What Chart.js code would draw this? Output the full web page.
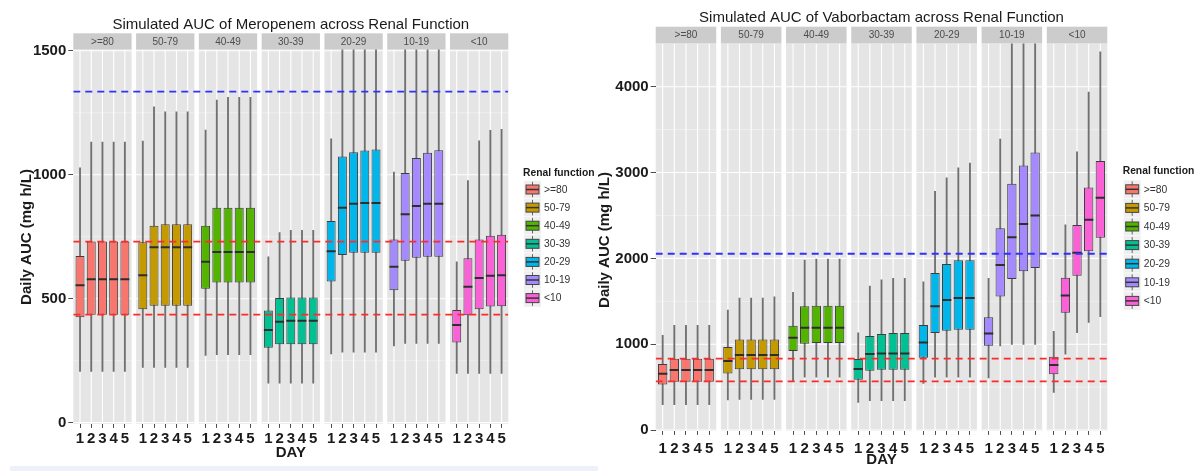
<!DOCTYPE html>
<html><head><meta charset="utf-8">
<script src="https://cdn.jsdelivr.net/npm/chart.js@4.4.0/dist/chart.umd.min.js"></script>
<style>
html,body{margin:0;padding:0;background:#fff;}
#wrap{position:relative;width:1198px;height:471px;overflow:hidden;background:#fff;}
canvas{position:absolute;left:0;top:0;}
#band{position:absolute;left:10px;top:466px;width:588px;height:5px;background:#edf1fa;}
</style></head><body>
<div id="wrap"><div id="band"></div>
<canvas id="c1" width="1198" height="471"></canvas>
<canvas id="c2" width="1198" height="471"></canvas>
</div>
<script>
// ---------- categories ----------
const categories = ['>=80','50-79','40-49','30-39','20-29','10-19','<10'];
const days = ['1','2','3','4','5'];
const colors = ['#F8766D','#C49A00','#53B400','#00C094','#00B6EB','#A58AFF','#FB61D7'];
const legendTitle = 'Renal function';

// ---------- Meropenem (rows = renal function group, cols = day 1..5) ----------
const meroMin = [[207,207,207,207,207],[223,223,223,223,223],[271,274,274,274,274],[159,159,159,159,159],[277,284,284,284,284],[309,320,320,320,320],[199,199,199,199,199]];
const meroQ1  = [[425,435,435,435,435],[457,472,472,472,472],[540,565,565,565,565],[302,316,316,316,316],[569,676,685,685,685],[534,653,665,669,669],[323,433,457,468,470]];
const meroMed = [[554,578,578,578,578],[595,707,707,707,707],[649,688,688,688,688],[374,407,411,411,411],[691,867,883,886,886],[629,841,874,883,883],[394,548,583,593,595]];
const meroQ3  = [[672,731,731,731,731],[728,794,800,800,800],[794,867,867,867,867],[452,503,505,505,505],[813,1073,1091,1098,1102],[739,1007,1067,1089,1099],[454,663,739,754,758]];
const meroMax = [[1028,1132,1132,1132,1132],[1136,1274,1254,1254,1254],[1180,1301,1312,1312,1312],[669,767,776,776,776],[1145,1560,1560,1560,1560],[1011,1560,1560,1560,1560],[649,976,1137,1179,1183]];
const meroBlue = [1335];
const meroRed = [730, 436];
const meroTicks = [0, 500, 1000, 1500];
const meroTickLabels = ['0','500','1000','1500'];
const meroMinor = [250, 750, 1250];

// ---------- Vaborbactam ----------
const vaboMin = [[295,295,295,295,295],[350,357,357,357,357],[563,617,617,617,617],[322,342,342,342,342],[544,617,617,617,617],[606,979,998,998,998],[439,885,1134,1254,1320]];
const vaboQ1  = [[532,563,563,563,563],[660,707,707,707,707],[920,1006,1014,1014,1014],[586,691,703,703,703],[843,1130,1157,1169,1169],[983,1557,1759,1849,1887],[649,1367,1798,2082,2241]];
const vaboMed = [[656,699,699,699,699],[804,874,874,874,874],[1076,1192,1192,1192,1192],[711,885,893,893,893],[1021,1441,1515,1538,1538],[1126,1922,2245,2400,2501],[757,1569,2066,2450,2707]];
const vaboQ3  = [[769,831,831,831,831],[967,1056,1056,1056,1056],[1216,1441,1449,1449,1449],[827,1095,1118,1130,1130],[1223,1829,1934,1977,1977],[1313,2350,2870,3083,3235],[854,1775,2388,2827,3134]];
const vaboMax = [[1103,1219,1219,1219,1219],[1398,1538,1538,1538,1553],[1604,1981,1992,1992,1992],[1134,1678,1751,1767,1767],[1728,2781,2940,3056,3111],[1767,3390,4600,4600,4600],[1150,2392,3243,3938,4408]];
const vaboBlue = [2054];
const vaboRed = [831, 567];
const vaboTicks = [0, 1000, 2000, 3000, 4000];
const vaboTickLabels = ['0','1000','2000','3000','4000'];
const vaboMinor = [500, 1500, 2500, 3500];

// ---------- layout ----------
const W = 1198, H = 471;
const STEP = 5.6, EXP = 0.6;
const FONT = '"Liberation Sans", Arial, sans-serif';
Chart.defaults.font.family = FONT;
Chart.defaults.animation = false;
const STRIP_FONT = '10px ' + FONT;

const panels = [
  {canvas:'c1', title:'Simulated AUC of Meropenem across Renal Function', yTitle:'Daily AUC (mg h/L)', xTitle:'DAY',
   lo:meroMin, q1:meroQ1, med:meroMed, q3:meroQ3, hi:meroMax, blue:meroBlue, red:meroRed,
   yTicks:meroTicks, yTickLabels:meroTickLabels, yMinor:meroMinor, yMin:-5, yMax:1505,
   area:{left:73.3, right:508.3, top:49.5, bottom:423.9}, stripH:16.2, xTickPad:2,
   yTitleX:27, yTitleY:237, xTitleY:453,
   legend:{x:523, titleY:172.7, y0:189.5, dy:18.1}},
  {canvas:'c2', title:'Simulated AUC of Vaborbactam across Renal Function', yTitle:'Daily AUC (mg h/L)', xTitle:'DAY',
   lo:vaboMin, q1:vaboQ1, med:vaboMed, q3:vaboQ3, hi:vaboMax, blue:vaboBlue, red:vaboRed,
   yTicks:vaboTicks, yTickLabels:vaboTickLabels, yMinor:vaboMinor, yMin:-10, yMax:4505,
   area:{left:655.7, right:1107.3, top:43.4, bottom:430.9}, stripH:16.7, xTickPad:5,
   yTitleX:605, yTitleY:240, xTitleY:460,
   legend:{x:1122.7, titleY:170.7, y0:189.3, dy:18.6}}
];

function drawLegend(ctx, L){
  ctx.textAlign = 'left'; ctx.textBaseline = 'middle';
  ctx.fillStyle = '#1a1a1a'; ctx.font = 'bold 10.3px ' + FONT;
  ctx.fillText(legendTitle, L.x, L.titleY);
  categories.forEach((cat, i) => {
    const yc = L.y0 + i * L.dy, kx = L.x + 1, kw = 17, kh = L.dy - 0.6;
    ctx.fillStyle = '#EFEFEF'; ctx.fillRect(kx, yc - kh/2, kw, kh);
    ctx.strokeStyle = '#666'; ctx.lineWidth = 1;
    ctx.beginPath(); ctx.moveTo(kx + kw/2, yc - kh/2 + 1); ctx.lineTo(kx + kw/2, yc + kh/2 - 1); ctx.stroke();
    ctx.fillStyle = colors[i]; ctx.fillRect(kx + 2, yc - 4.5, kw - 4, 9);
    ctx.strokeStyle = '#444'; ctx.strokeRect(kx + 2, yc - 4.5, kw - 4, 9);
    ctx.strokeStyle = '#333'; ctx.lineWidth = 1.5;
    ctx.beginPath(); ctx.moveTo(kx + 2, yc); ctx.lineTo(kx + kw - 2, yc); ctx.stroke();
    ctx.fillStyle = '#333'; ctx.font = '10.3px ' + FONT;
    ctx.fillText(cat, kx + kw + 3, yc + 0.5);
  });
}

function makeChart(P){
  const pos = [];
  categories.forEach((c, f) => days.forEach((d, i) => pos.push(f * STEP + i)));
  const flatRange = (lo, hi) => lo.flatMap((row, f) => row.map((v, i) => ({x: f * STEP + i, y: [v, hi[f][i]]})));
  const flatPts = (arr) => arr.flatMap((row, f) => row.map((v, i) => ({x: f * STEP + i, y: v})));
  const boxColors = categories.flatMap((c, f) => days.map(() => colors[f]));
  const xMin = -EXP, xMax = (categories.length - 1) * STEP + (days.length - 1) + EXP;
  const unit = (chart) => { const s = chart.scales.x; return Math.abs(s.getPixelForValue(1) - s.getPixelForValue(0)); };
  const refSet = (v, color) => ({type:'line', data:[{x:xMin, y:v}, {x:xMax, y:v}], borderColor:color, borderWidth:1.8,
    borderDash:[7,5], pointRadius:0, fill:false, order:0});

  const datasets = [
    {type:'bar', label:'whisker', data:flatRange(P.lo, P.hi), backgroundColor:'#707070', barThickness:1.2, grouped:false, order:3},
    {type:'bar', label:'IQR', data:flatRange(P.q1, P.q3), backgroundColor:boxColors, borderColor:'#3d3d3d', borderWidth:1,
     borderSkipped:false, barPercentage:0.8, categoryPercentage:1, grouped:false, order:2},
    {type:'line', label:'median', data:flatPts(P.med), showLine:false, pointStyle:'line',
     pointRadius: ctx => unit(ctx.chart) * 0.4, pointBorderColor:'#2e2e2e', pointBorderWidth:2, order:1},
    ...P.blue.map(v => refSet(v, '#3030ff')),
    ...P.red.map(v => refSet(v, '#ff2b2b'))
  ];

  const panelPlugin = {
    id: 'panel_' + P.canvas,
    beforeDraw(chart){
      const {ctx, chartArea: a, scales: {x, y}} = chart;
      ctx.save();
      const hl = (py, l, r) => { ctx.beginPath(); ctx.moveTo(l, py); ctx.lineTo(r, py); ctx.stroke(); };
      categories.forEach((cat, f) => {
        const l = x.getPixelForValue(f * STEP - EXP), r = x.getPixelForValue(f * STEP + days.length - 1 + EXP);
        ctx.fillStyle = '#E5E5E5'; ctx.fillRect(l, a.top, r - l, a.bottom - a.top);
        ctx.strokeStyle = '#F2F2F2'; ctx.lineWidth = 0.7;
        P.yMinor.forEach(v => hl(y.getPixelForValue(v), l, r));
        ctx.strokeStyle = '#FFFFFF'; ctx.lineWidth = 1.1;
        P.yTicks.forEach(v => hl(y.getPixelForValue(v), l, r));
        days.forEach((d, i) => { const px = x.getPixelForValue(f * STEP + i);
          ctx.beginPath(); ctx.moveTo(px, a.top); ctx.lineTo(px, a.bottom); ctx.stroke(); });
        ctx.fillStyle = '#CCCCCC'; ctx.fillRect(l, a.top - P.stripH, r - l, P.stripH);
        ctx.fillStyle = '#4d4d4d'; ctx.font = STRIP_FONT; ctx.textAlign = 'center'; ctx.textBaseline = 'middle';
        ctx.fillText(cat, (l + r) / 2, a.top - P.stripH / 2 + 0.5);
      });
      const cx = (a.left + a.right) / 2;
      ctx.fillStyle = '#1a1a1a'; ctx.font = '15px ' + FONT; ctx.textAlign = 'center'; ctx.textBaseline = 'middle';
      ctx.fillText(P.title, cx, a.top - P.stripH - 8.5);
      ctx.font = 'bold 15px ' + FONT;
      ctx.fillText(P.xTitle, cx, P.xTitleY);
      ctx.save(); ctx.translate(P.yTitleX, P.yTitleY); ctx.rotate(-Math.PI / 2);
      ctx.fillText(P.yTitle, 0, 0); ctx.restore();
      drawLegend(ctx, P.legend);
      ctx.restore();
    }
  };

  return new Chart(document.getElementById(P.canvas), {
    type:'bar',
    data:{datasets},
    plugins:[panelPlugin],
    options:{
      responsive:false, devicePixelRatio:1, animation:false, events:[], indexAxis:'x',
      layout:{padding:{left:0, top:P.area.top, right:W - P.area.right, bottom:0}},
      plugins:{legend:{display:false}, title:{display:false}, tooltip:{enabled:false}},
      scales:{
        x:{type:'linear', min:xMin, max:xMax, offset:false,
           grid:{offset:false, drawOnChartArea:false, drawTicks:true, tickLength:4, tickColor:'#4d4d4d', tickWidth:1},
           border:{display:false},
           afterBuildTicks: s => { s.ticks = pos.map(v => ({value:v})); },
           ticks:{autoSkip:false, maxRotation:0, minRotation:0, padding:P.xTickPad, color:'#1a1a1a',
                  font:{size:15, weight:'bold'}, callback:(v, i) => days[i % days.length]},
           afterFit: s => { s.height = H - P.area.bottom; }},
        y:{type:'linear', min:P.yMin, max:P.yMax,
           grid:{drawOnChartArea:false, drawTicks:true, tickLength:5, tickColor:'#4d4d4d', tickWidth:1},
           border:{display:false},
           afterBuildTicks: s => { s.ticks = P.yTicks.map(v => ({value:v})); },
           ticks:{padding:2, color:'#1a1a1a', font:{size:15, weight:'bold'}, callback:(v, i) => P.yTickLabels[i]},
           afterFit: s => { s.width = P.area.left; }}
      }
    }
  });
}

panels.forEach(makeChart);
</script>
</body></html>
